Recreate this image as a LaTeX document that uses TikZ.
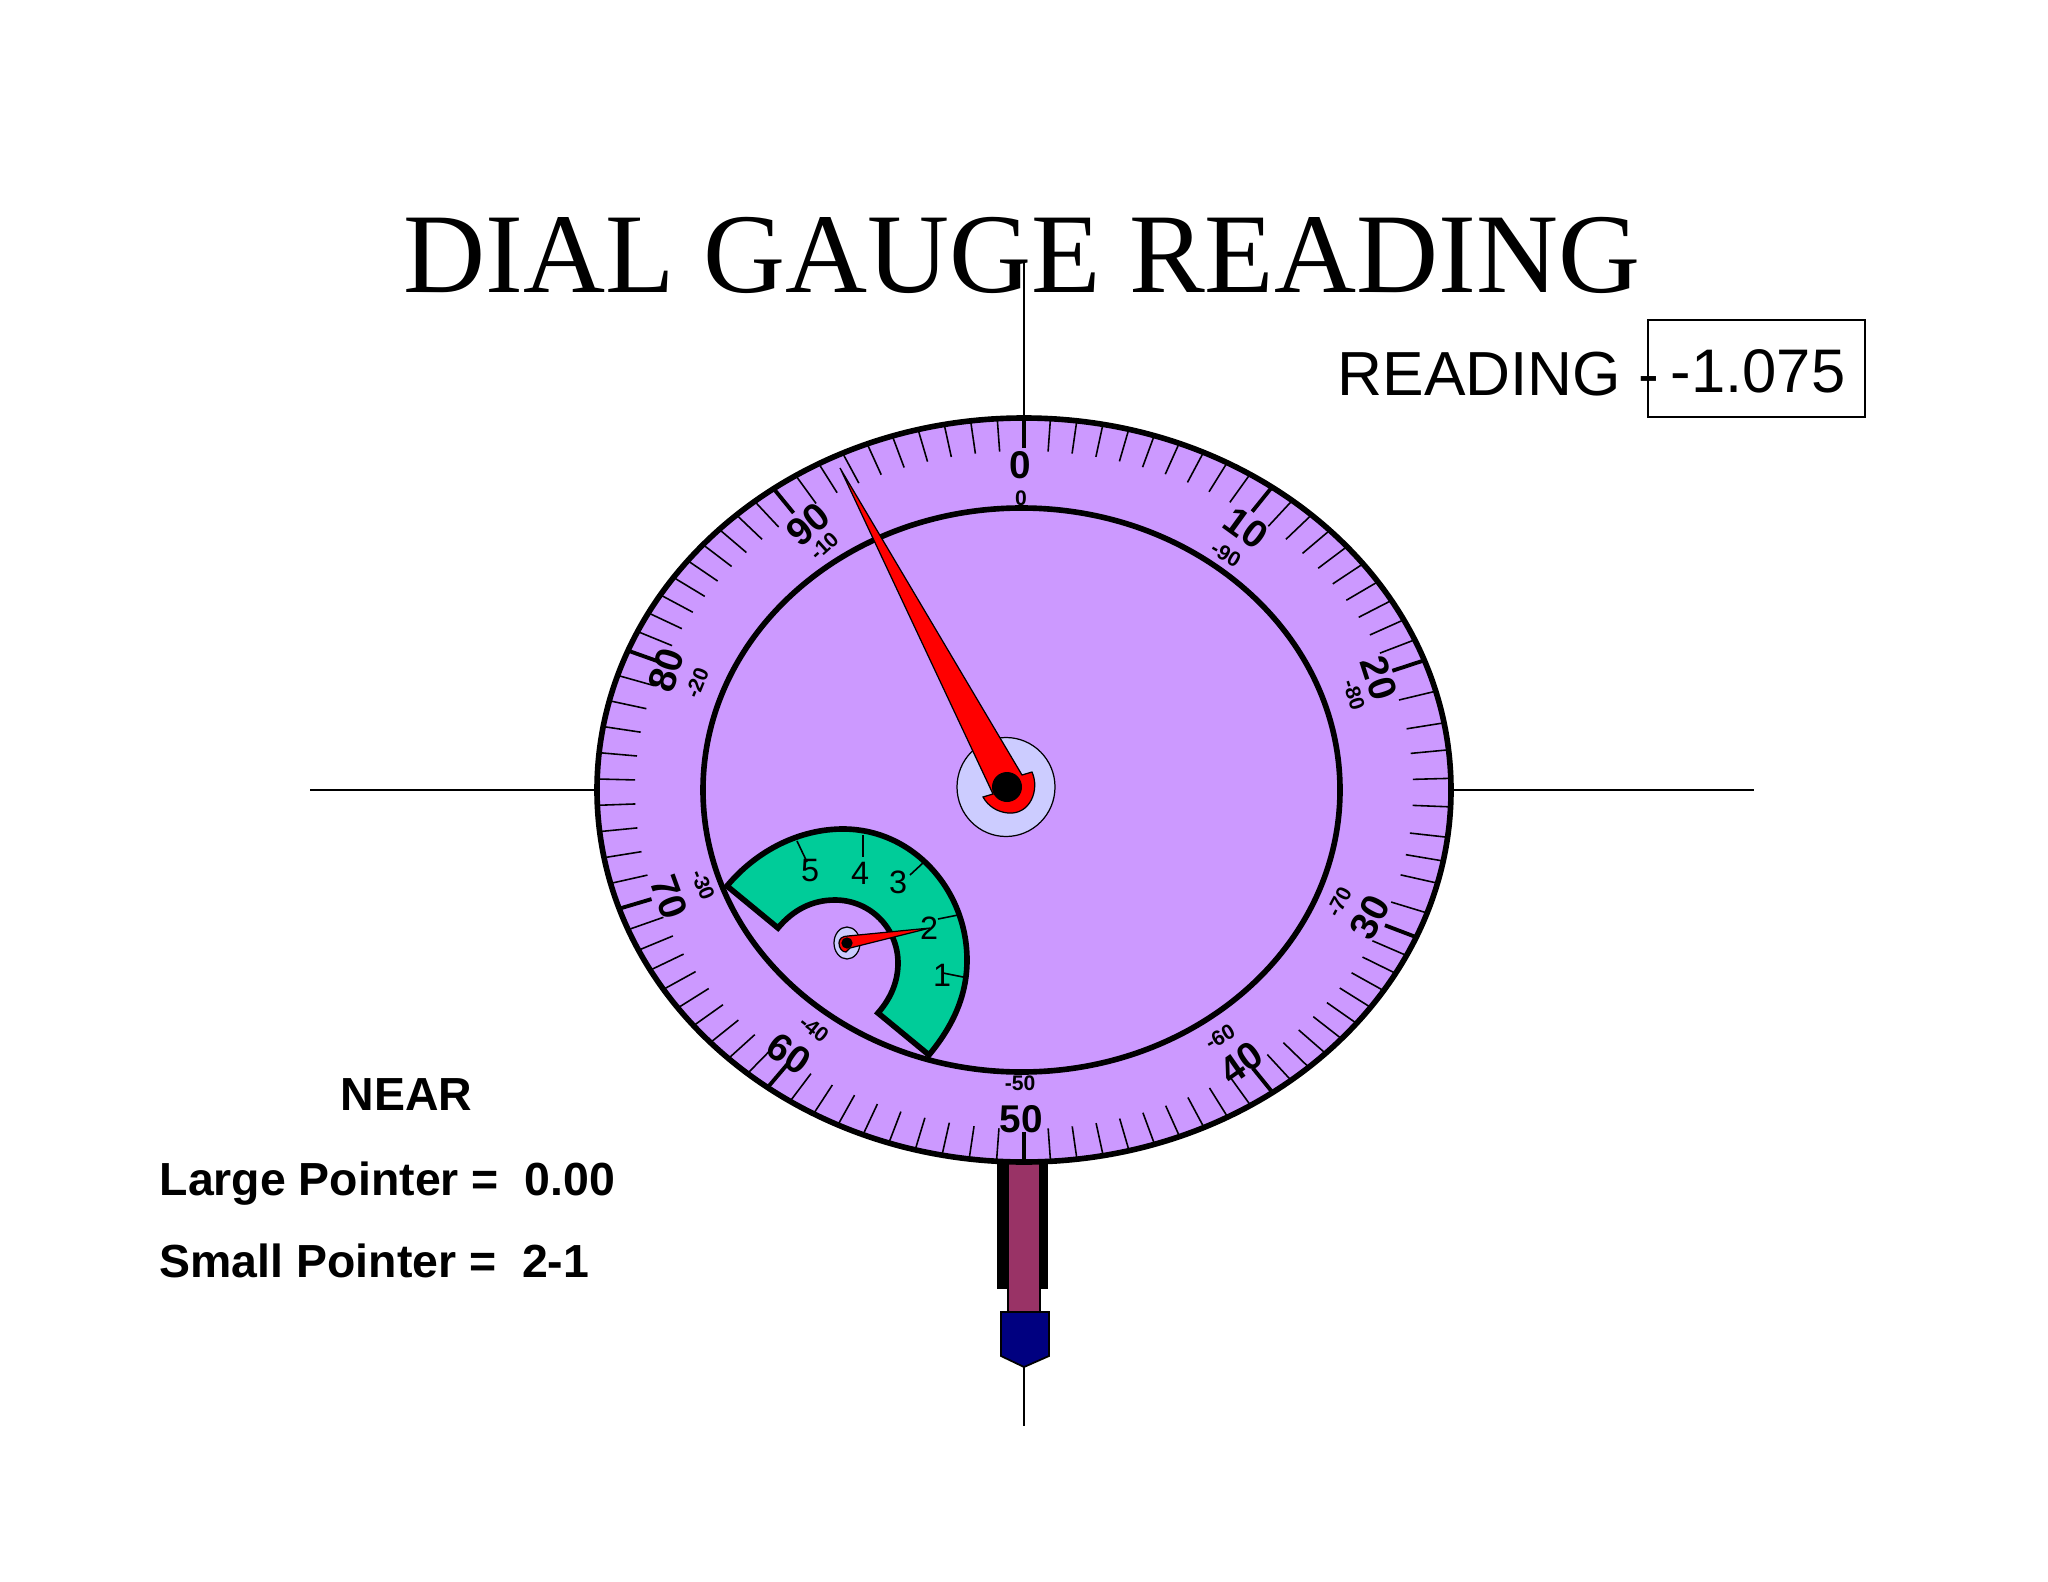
\documentclass[tikz,border=0pt]{standalone}
\usepackage{fontspec}
\setmainfont{Liberation Serif}
\setsansfont{Liberation Sans}

\tikzset{
  dialline/.style={draw=black, line width=1.6pt},
  minortick/.style={draw=black, line width=0.45pt},
  majortick/.style={draw=black, line width=1.1pt},
  thinline/.style={draw=black, line width=0.35pt},
  majorlabel/.style={inner sep=0pt, font=\sffamily\bfseries\fontsize{11}{12}\selectfont},
  minorlabel/.style={inner sep=0pt, font=\sffamily\bfseries\fontsize{6}{7}\selectfont},
  subdiallabel/.style={inner sep=0pt, font=\sffamily\fontsize{9.2}{11}\selectfont},
  notetext/.style={inner sep=0pt, anchor=base west, font=\sffamily\bfseries\fontsize{13.2}{15}\selectfont},
}
\definecolor{dialpurple}{HTML}{CC99FF}
\definecolor{subgreen}{HTML}{00CC99}
\definecolor{hubblue}{HTML}{CCCCFF}
\definecolor{stemred}{HTML}{993366}
\definecolor{tipblue}{HTML}{000080}

\begin{document}
\begin{tikzpicture}[x=0.01cm, y=-0.01cm]
  \useasboundingbox (0,0) rectangle (2048,1582);

  % centre lines
  \coordinate (topend) at (1024,261);
  \coordinate (leftend) at (310,790);
  \coordinate (rightend) at (1754,790);
  \coordinate (dialtop) at (1024,418);
  \coordinate (dialleft) at (597,790);
  \coordinate (dialright) at (1451,790);
  \draw[thinline] (topend) -- (dialtop);
  \draw[thinline] (leftend) -- (dialleft);
  \draw[thinline] (dialright) -- (rightend);

  % texts
  \node [inner sep=0pt, anchor=base, font=\fontsize{32.3}{36}\selectfont](title) at (1022,293) {DIAL GAUGE READING};
  \node [inner sep=0pt, anchor=base west, font=\sffamily\fontsize{17.7}{20}\selectfont](reading) at (1337,395) {READING -};
  \node [thinline, inner sep=0pt, minimum width=217*0.01cm, minimum height=97*0.01cm](readbox) at (1756.5,368.5) {};
  \node [inner sep=0pt, font=\sffamily\fontsize{17.5}{20}\selectfont](readvalue) at (1758,371) {-1.075};
  \node [notetext](near) at (340,1110) {NEAR};
  \node [notetext](large) at (159,1195) {Large Pointer =\ \ 0.00};
  \node [notetext](small) at (159,1277) {Small Pointer =\ \ 2-1};

  % plunger below the dial
  \draw[fill=black, draw=black] (998,1160) rectangle (1047,1288);
  \draw[thinline, fill=stemred] (1008,1288) rectangle (1040,1312);
  \fill[stemred] (1009,1162) rectangle (1039,1290);
  \draw[thinline, line width=0.5pt, fill=tipblue] (1001,1312) -- (1049,1312) -- (1049,1356) -- (1024,1367) -- (1001,1356) -- cycle;
  \coordinate (tipend) at (1024,1367);
  \coordinate (lineend) at (1024,1426);
  \draw[thinline, line width=0.45pt] (tipend) -- (lineend);

  % dial face
  \path[dialline, fill=dialpurple] (1024,790) ellipse [x radius=427, y radius=372];
  % the marks do not lie evenly: angle of each ten, then the marks in between
  \foreach \from/\to in {0/35.5, 35.5/69.6, 113.3/144.4, 144.4/180, 180/216.9, 216.9/251.4, 251.4/292, 292/324.1, 324.1/360}{
    \draw[majortick] ({1024+427*sin(\from)},{790-372*cos(\from)}) -- ({1024+393*sin(\from)},{790-342*cos(\from)});
    \foreach \k in {1,...,9}{
      \pgfmathsetmacro{\a}{\from+(\to-\from)*\k/10}
      \draw[minortick] ({1024+427*sin(\a)},{790-372*cos(\a)}) -- ({1024+389*sin(\a)},{790-339*cos(\a)});
    }
  }
  \draw[majortick] ({1024+427*sin(69.6)},{790-372*cos(69.6)}) -- ({1024+393*sin(69.6)},{790-342*cos(69.6)});
  \foreach \a in {74.6,79.6,83.8,88.2,92.6,97.3,101,104.5,109.3}
    \draw[minortick] ({1024+427*sin(\a)},{790-372*cos(\a)}) -- ({1024+389*sin(\a)},{790-339*cos(\a)});
  \path[dialline] (1021.5,790) ellipse [x radius=318.5, y radius=282];

  % numbers of the dial
  \foreach \px/\py/\rot/\txt in {1020/465/0/0, 1246/528/-36/10, 1379/678/-72/20, 1370/917/62/30, 1241/1063/35/40,
      1021/1119/0/50, 789/1054/-35/60, 669/897/-70/70, 666/670/72/80, 808/524/40/90}
    \node [majorlabel, rotate=\rot](major\txt) at (\px,\py) {\txt};
  \foreach \px/\py/\rot/\txt in {1021/498/0/0, 1226/554/-30/-90, 1354/695/-72/-80, 1339/902/62/-70, 1220/1037/30/-60,
      1020/1083/0/-50, 814/1029/-38/-40, 703/885/-68/-30, 697/683/68/-20, 824/546/42/-10}
    \node [minorlabel, rotate=\rot](minor\txt) at (\px,\py) {\txt};

  % small dial
  \path[dialline, fill=subgreen, line join=miter] (727,886) .. controls (757,850) and (800,829) .. (843,829)
    .. controls (913,829) and (967,890) .. (967,960) .. controls (967,997) and (952,1027) .. (929,1055)
    -- (878,1013) .. controls (892,997) and (898,980) .. (898,963) .. controls (898,928) and (870,900) .. (835,900)
    .. controls (812,900) and (793,910) .. (778,928) -- cycle;
  \draw[minortick] (797,841) -- (807,862);
  \draw[minortick] (863,835) -- (863,857);
  \draw[minortick] (924,862) -- (910,875);
  \draw[minortick] (958,915) -- (938,919);
  \draw[minortick] (963,977) -- (943,973);
  \node [subdiallabel](five) at (810,871) {5};
  \node [subdiallabel](four) at (860,873) {4};
  \node [subdiallabel](three) at (898,882) {3};
  \node [subdiallabel](two) at (929,928) {2};
  \node [subdiallabel](one) at (942,975) {1};

  % small pointer
  \path[thinline, fill=hubblue] (847,943) ellipse [x radius=13, y radius=16];
  \path[thinline, fill=red] (930,928) -- (848,936) .. controls (842,936) and (839,939) .. (839,943)
    .. controls (839,948) and (842,952) .. (846,952) -- (850,948) -- cycle;
  \node [inner sep=0.04cm, circle, fill](smallhub) at (847,943) {};

  % large pointer
  \path[thinline, fill=hubblue] (1006,787) ellipse [x radius=49, y radius=49.5];
  \path[thinline, fill=red] (840,468) -- (1022,775) -- (1032,772) .. controls (1040,790) and (1030,815) .. (1008,813)
    .. controls (997,812) and (988,806) .. (983,797) -- (993,794) -- cycle;
  \node [inner sep=0pt, minimum size=30*0.01cm, circle, fill](largehub) at (1007,787) {};
\end{tikzpicture}
\end{document}
